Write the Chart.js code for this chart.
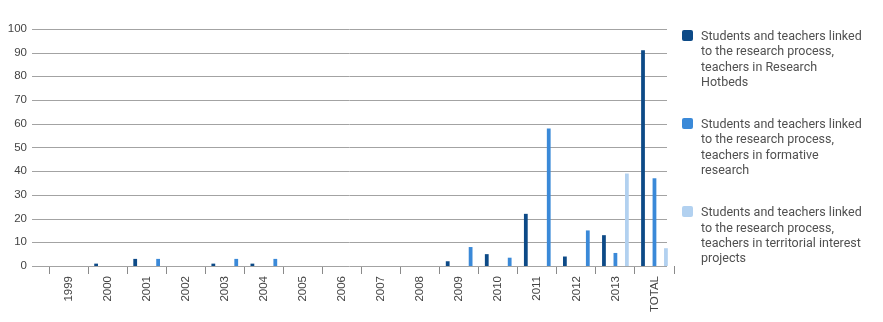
<!DOCTYPE html>
<html>
<head>
<meta charset="utf-8">
<script src="https://cdn.jsdelivr.net/npm/chart.js@4.4.1/dist/chart.umd.min.js"></script>
<style>
  body { margin: 0; background: #fff; }
  #wrap { position: relative; width: 883px; height: 322px; }
  #legend {
    position: absolute; left: 682px; top: 28px;
    font-family: Roboto, sans-serif; font-size: 12.5px; line-height: 15.3px; color: #505050;
  }
  .item { display: flex; align-items: flex-start; margin-bottom: 27px; }
  .box { width: 11px; height: 11px; border-radius: 2px; margin-top: 2px; margin-right: 8px; flex: none; }
  .txt { width: 164px; }
</style>
</head>
<body>
<div id="wrap">
  <canvas id="chart" width="883" height="322"></canvas>
  <div id="legend"></div>
</div>
<script>
// categorías del eje X
const years = ['1999', '2000', '2001', '2002', '2003', '2004', '2005', '2006',
  '2007', '2008', '2009', '2010', '2011', '2012', '2013', 'TOTAL'];

// series
const hotbeds     = [0, 1, 3, 0, 1, 1, 0, 0, 0, 0, 2, 5, 22, 4, 13, 91];
const formative   = [0, 0, 3, 0, 3, 3, 0, 0, 0, 0, 8, 3.5, 58, 15, 5.5, 37];
const territorial = [0, 0, 0, 0, 0, 0, 0, 0, 0, 0, 0, 0, 0, 0, 39, 7.5];

const seriesNames = [
  'Students and teachers linked to the research process, teachers in Research Hotbeds',
  'Students and teachers linked to the research process, teachers in formative research',
  'Students and teachers linked to the research process, teachers in territorial interest projects'
];
const seriesColors = ['#0d4a87', '#3a89d8', '#b2d1f0'];
const yTicks = [0, 10, 20, 30, 40, 50, 60, 70, 80, 90, 100];

// en el original, la serie "formative" ocupa la tercera posición del grupo hasta 2012
const split = years.indexOf('2013');
const formativeLate  = formative.map((v, i) => i >= split ? v : null);
const formativeEarly = formative.map((v, i) => i < split ? v : null);

// líneas horizontales que empiezan antes del eje
const gridPlugin = {
  id: 'gridLines',
  beforeDatasetsDraw(chart) {
    const y = chart.scales.y;
    const area = chart.chartArea;
    const ctx = chart.ctx;
    ctx.save();
    ctx.strokeStyle = '#a3a3a3';
    ctx.lineWidth = 1;
    yTicks.forEach(t => {
      const py = Math.round(y.getPixelForValue(t)) + 0.5;
      ctx.beginPath();
      ctx.moveTo(area.left - 17, py);
      ctx.lineTo(area.right - 7, py);
      ctx.stroke();
    });
    ctx.restore();
  }
};

const common = { categoryPercentage: 0.88, barPercentage: 0.33, borderWidth: 0 };

new Chart(document.getElementById('chart'), {
  type: 'bar',
  data: {
    labels: years,
    datasets: [
      { ...common, label: seriesNames[0], data: hotbeds, backgroundColor: seriesColors[0], stack: 'a' },
      { ...common, label: seriesNames[1], data: formativeLate, backgroundColor: seriesColors[1], stack: 'b' },
      { ...common, label: seriesNames[2], data: territorial, backgroundColor: seriesColors[2], stack: 'c' },
      { ...common, label: seriesNames[1], data: formativeEarly, backgroundColor: seriesColors[1], stack: 'c' }
    ]
  },
  options: {
    responsive: false,
    animation: false,
    layout: { padding: { left: 0, top: 28, right: 209, bottom: 4 } },
    plugins: { legend: { display: false }, tooltip: { enabled: false } },
    scales: {
      x: {
        grid: { offset: true, drawOnChartArea: false, drawTicks: true, tickLength: 8, color: '#8a8a8a' },
        border: { display: false },
        ticks: {
          minRotation: 90, maxRotation: 90, autoSkip: false, padding: 2,
          color: '#444', font: { family: 'Liberation Sans', size: 11.5 }
        },
        afterFit(scale) { scale.height = 52; }
      },
      y: {
        stacked: true,
        min: 0, max: 100,
        grid: { display: false, drawTicks: false },
        border: { display: false },
        ticks: {
          stepSize: 10, padding: 22,
          color: '#444', font: { family: 'Liberation Sans', size: 11.5 }
        },
        afterFit(scale) { scale.width = 49; }
      }
    }
  },
  plugins: [gridPlugin]
});

// leyenda en HTML (el texto va en varias líneas)
const legend = document.getElementById('legend');
seriesNames.forEach((name, i) => {
  const item = document.createElement('div');
  item.className = 'item';
  item.innerHTML = `<span class="box" style="background:${seriesColors[i]}"></span><span class="txt">${name}</span>`;
  legend.appendChild(item);
});
</script>
</body>
</html>
